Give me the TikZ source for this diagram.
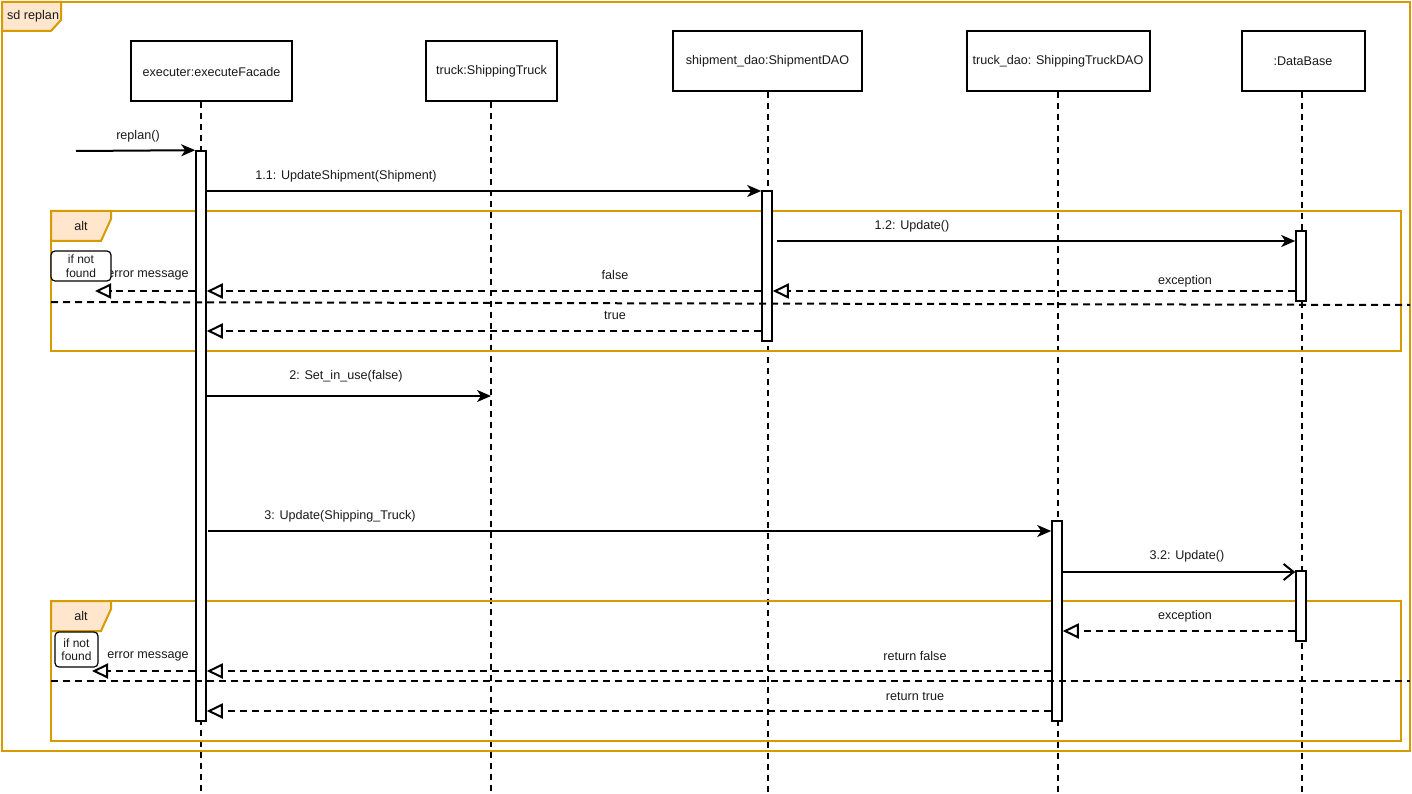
\documentclass[tikz,border=0pt]{standalone}
\usepackage{fontspec}
\setmainfont{Liberation Sans}
\usetikzlibrary{arrows.meta}
\definecolor{frameor}{HTML}{D79B00}
\definecolor{tabfill}{HTML}{FFE6CC}
\definecolor{txt}{HTML}{1A1A1A}
\begin{document}
\begin{tikzpicture}[x=1pt,y=-1pt,
  head/.style={draw, line width=2pt, minimum height=60pt, inner sep=0pt, text=txt, font=\fontsize{12.6}{14}\selectfont},
  actbar/.style={draw, fill=white, line width=1.6pt, minimum width=10pt, inner sep=0pt},
  life/.style={line width=2pt, dash pattern=on 6pt off 5pt},
  msg/.style={line width=2pt, -{Stealth[length=14pt,width=12pt,inset=4pt]}},
  msgopen/.style={line width=2pt, -{Straight Barb[length=10pt,width=16pt,line width=2pt]}},
  ret/.style={line width=2pt, dash pattern=on 7pt off 5pt, -{Triangle[open,length=16pt,width=15pt,line width=2pt]}},
  divider/.style={line width=2pt, dash pattern=on 7pt off 5pt},
  lbl/.style={font=\fontsize{12.6}{14}\selectfont, text=txt, inner sep=0pt},
  frm/.style={draw=frameor, line width=2pt},
  tab/.style={draw=frameor, fill=tabfill, line width=2pt},
  note/.style={draw, rounded corners=4pt, fill=white, line width=1.2pt, align=center, inner sep=1pt, text=txt, font=\fontsize{12}{13.5}\selectfont}
]
\useasboundingbox (0,0) rectangle (1412,794);
\fill[white] (0,0) rectangle (1412,794);

% outer frame
\draw[frm] (2,2) rectangle (1410,751);
\draw[tab] (2,2) -- (61,2) -- (61,20) -- (51,31) -- (2,31) -- cycle;
\node[lbl, anchor=west] (sdlbl) at (7,16) {sd replan};

% lifeline heads
\node[head, minimum width=161pt] (h1) at (211.5,71.5) {executer:executeFacade};
\node[head, minimum width=131pt] (h2) at (491.5,71.5) {truck:ShippingTruck};
\node[head, minimum width=189pt] (h3) at (767.5,61.5) {shipment\_dao:ShipmentDAO};
\node[head, minimum width=183pt] (h4) at (1058,61.5) {truck\_dao: ShippingTruckDAO};
\node[head, minimum width=123pt] (h5) at (1303,61.5) {:DataBase};

% lifelines
\coordinate (e1) at (201,794);
\coordinate (e2) at (491,794);
\coordinate (e3) at (768,794);
\coordinate (e4) at (1058,794);
\coordinate (e5) at (1302,794);
\draw[life] (h1.south -| e1) -- (e1);
\draw[life] (h2.south -| e2) -- (e2);
\draw[life] (h3.south -| e3) -- (e3);
\draw[life] (h4.south -| e4) -- (e4);
\draw[life] (h5.south -| e5) -- (e5);

% alt frames
\draw[frm] (51,211) rectangle (1401,351);
\draw[frm] (51,601) rectangle (1401,741);

% activation bars
\node[actbar, minimum height=570pt] (a1) at (201,436) {};
\node[actbar, minimum height=150pt] (a3) at (767,266) {};
\node[actbar, minimum height=70pt] (a5a) at (1301,266) {};
\node[actbar, minimum height=200pt] (a4) at (1057,621) {};
\node[actbar, minimum height=70pt] (a5b) at (1301,606) {};

% alt tabs
\draw[tab] (51,211) -- (111,211) -- (111,219) -- (101,241) -- (51,241) -- cycle;
\node[lbl] (alt1) at (81,226) {alt};
\draw[tab] (51,601) -- (111,601) -- (111,609) -- (101,631) -- (51,631) -- cycle;
\node[lbl] (alt2) at (81,616) {alt};

% replan entry
\coordinate (start) at (76,151);
\draw[msg] (start) -- (a1.north west);
\node[lbl] (lreplan) at (138,136) {replan()};

% 1.1
\draw[msg] (a1.east |- 0,191) -- (a3.west |- 0,191);
\node[lbl] (l11) at (346,176) {1.1: UpdateShipment(Shipment)};

% 1.2
\draw[msg] (777,241) -- (a5a.west |- 0,241);
\node[lbl] (l12) at (912,226) {1.2: Update()};

% exception 1
\draw[ret] (a5a.west |- 0,291) -- (a3.east |- 0,291);
\node[lbl] (lexc1) at (1185,281) {exception};

% false
\draw[ret] (a3.west |- 0,291) -- (a1.east |- 0,291);
\node[lbl] (lfalse) at (615,275) {false};

% error message 1 (partly covered by the note)
\coordinate (err1) at (95,291);
\draw[ret] (a1.west |- 0,291) -- (err1);
\node[lbl] (lerr1) at (148,275) {error message};
\node[note, minimum width=60pt, minimum height=30pt] (n1) at (81,266) {if not\\found};

% divider 1
\draw[divider] (51,302) -- (1410,305);

% true
\draw[ret] (a3.west |- 0,331) -- (a1.east |- 0,331);
\node[lbl] (ltrue) at (615,315) {true};

% 2
\draw[msg] (a1.east |- 0,396) -- (e2 |- 0,396);
\node[lbl] (l2) at (346,376) {2: Set\_in\_use(false)};

% 3
\draw[msg] (208,531) -- (a4.west |- 0,531);
\node[lbl] (l3) at (340,516) {3: Update(Shipping\_Truck)};

% 3.2
\draw[msgopen] (a4.east |- 0,572) -- (a5b.west |- 0,572);
\node[lbl] (l32) at (1187,556) {3.2: Update()};

% exception 2
\draw[ret] (a5b.west |- 0,631) -- (a4.east |- 0,631);
\node[lbl] (lexc2) at (1185,616) {exception};

% return false
\draw[ret] (a4.west |- 0,671) -- (a1.east |- 0,671);
\node[lbl] (lrf) at (915,656) {return false};

% error message 2
\coordinate (err2) at (92,671);
\draw[ret] (a1.west |- 0,671) -- (err2);
\node[lbl] (lerr2) at (148,656) {error message};
\node[note, minimum width=43pt, minimum height=35pt] (n2) at (76.5,649.5) {if not\\found};

% divider 2
\draw[divider] (51,681) -- (1410,681);

% return true
\draw[ret] (a4.west |- 0,711) -- (a1.east |- 0,711);
\node[lbl] (lrt) at (915,696) {return true};
\end{tikzpicture}
\end{document}
